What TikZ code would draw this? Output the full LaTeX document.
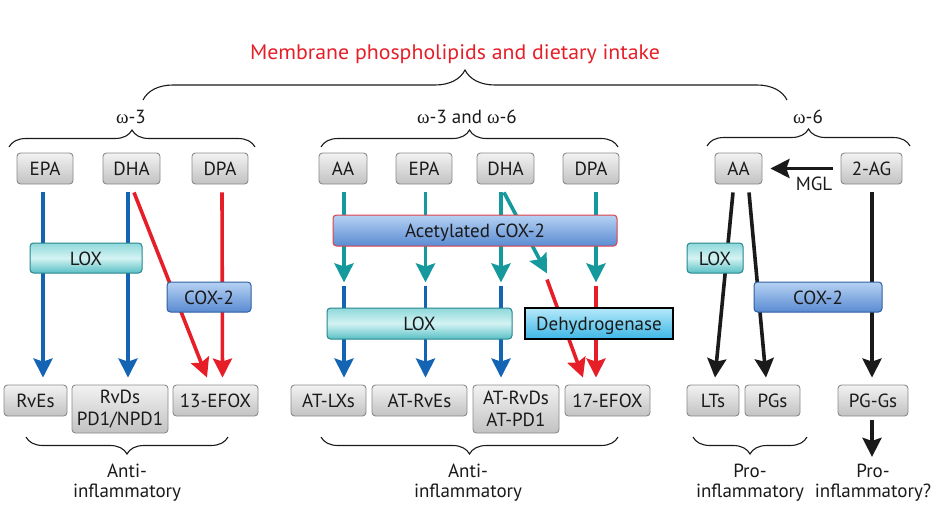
\documentclass[tikz,border=0pt]{standalone}
\usepackage{fontspec}
\usepackage{graphicx}
\setmainfont{PT Sans}
\newfontfamily\grk{Liberation Serif}
\newcommand{\omg}{{\grk ω}}
\usetikzlibrary{arrows.meta,decorations.pathreplacing}
\definecolor{cblue}{HTML}{1464B4}
\definecolor{cred}{HTML}{E61E28}
\definecolor{cteal}{HTML}{16999C}
\definecolor{cblack}{HTML}{1A1A1A}
\definecolor{boxtop}{HTML}{F2F2F2}
\definecolor{boxbot}{HTML}{C2C2C2}
\definecolor{boxedge}{HTML}{8A8A8A}
\definecolor{loxtop}{HTML}{8ED8DA}
\definecolor{loxmid}{HTML}{D4F3F3}
\definecolor{loxbot}{HTML}{58C0C5}
\definecolor{loxedge}{HTML}{27868E}
\definecolor{coxtop}{HTML}{B6D2F3}
\definecolor{coxbot}{HTML}{5A8BD2}
\definecolor{coxedge}{HTML}{2F5F9E}
\definecolor{dehtop}{HTML}{B5E9FA}
\definecolor{dehbot}{HTML}{3DB6E6}
\definecolor{acedge}{HTML}{E0404A}
\pgfdeclarelayer{bg}
\pgfsetlayers{bg,main}
\tikzset{
  txt/.style={font=\fontsize{19}{19.5}\selectfont, inner sep=0pt, text=cblack},
  onel/.style={text height=14.5pt, text depth=0pt},
  gbox/.style={txt, draw=boxedge, line width=0.9pt, rounded corners=3.5pt,
    top color=boxtop, bottom color=boxbot, minimum height=31pt, align=center},
  twol/.style={font=\fontsize{19}{21.5}\selectfont, minimum height=48pt},
  loxbox/.style={txt, onel, draw=loxedge, line width=1pt, rounded corners=3.5pt,
    top color=loxtop, bottom color=loxbot, middle color=loxmid, minimum height=30pt},
  coxbox/.style={txt, onel, draw=coxedge, line width=1pt, rounded corners=3.5pt,
    top color=coxtop, bottom color=coxbot, minimum height=30pt},
  acbox/.style={coxbox, draw=acedge, minimum height=31pt},
  dehbox/.style={txt, onel, draw=black, line width=1.3pt,
    top color=dehtop, bottom color=dehbot, minimum height=31pt},
  arr/.style={line width=3.6pt, -{Stealth[length=19pt,width=19pt,inset=3pt]}},
  barr/.style={arr, draw=cblue},
  rarr/.style={arr, draw=cred},
  tarr/.style={arr, draw=cteal},
  karr/.style={arr, draw=cblack},
  brc/.style={draw=cblack, line width=1.1pt, decorate},
}
\begin{document}
\begin{tikzpicture}[x=1pt,y=-1pt]
\useasboundingbox (0,0) rectangle (946,522);

% title and group labels
\node[txt, font=\fontsize{21}{22}\selectfont, text=cred, anchor=base] (title) at (455,59) {\scalebox{1.04}[1]{Membrane phospholipids and dietary intake}};
\node[txt, anchor=base] (om3) at (131,123) {\omg-3};
\node[txt, anchor=base] (om36) at (467,123) {\omg-3 and \omg-6};
\node[txt, anchor=base] (om6) at (808,123) {\omg-6};

% braces
\draw[brc, decoration={brace, amplitude=30pt}] (143,100) -- (787,100);
\draw[brc, decoration={brace, amplitude=17pt}] (9,147) -- (255,147);
\draw[brc, decoration={brace, amplitude=17pt}] (321,147) -- (618,147);
\draw[brc, decoration={brace, amplitude=17pt}] (707,146) -- (910,146);
\draw[brc, decoration={brace, amplitude=17pt}] (228,437) -- (26,437);
\draw[brc, decoration={brace, amplitude=17pt}] (618,437) -- (321,437);
\draw[brc, decoration={brace, amplitude=17pt}] (807,437) -- (693,437);

% source boxes
\node[gbox, onel, minimum width=56pt] (e3EPA) at (45,168.5) {EPA};
\node[gbox, onel, minimum width=57pt] (e3DHA) at (131.5,168.5) {DHA};
\node[gbox, onel, minimum width=56pt] (e3DPA) at (220,168.5) {DPA};
\node[gbox, onel, minimum width=48pt] (mAA) at (343,168.5) {AA};
\node[gbox, onel, minimum width=56pt] (mEPA) at (424,168.5) {EPA};
\node[gbox, onel, minimum width=57pt] (mDHA) at (505.5,168.5) {DHA};
\node[gbox, onel, minimum width=56pt] (mDPA) at (591,168.5) {DPA};
\node[gbox, onel, minimum width=47pt] (rAA) at (738.5,168.5) {AA};
\node[gbox, onel, minimum width=61pt] (r2AG) at (871.5,168.5) {2-AG};

% enzymes
\node[loxbox, minimum width=112pt] (LOXa) at (86,258) {LOX};
\node[coxbox, minimum width=84pt] (COXa) at (209,297) {COX-2};
\node[acbox, minimum width=284pt] (AcCOX) at (475,230.5) {Acetylated COX-2};
\node[loxbox, minimum width=185pt, minimum height=31pt] (LOXb) at (419.5,323.5) {LOX};
\node[dehbox, minimum width=148pt] (DEH) at (599,323.5) {Dehydrogenase};
\node[loxbox, minimum width=56pt] (LOXc) at (715,258) {LOX};
\node[coxbox, minimum width=128pt] (COXc) at (818,297) {COX-2};

% products
\node[gbox, onel, minimum width=63pt] (RvEs) at (35.5,400.5) {RvEs};
\node[gbox, twol, minimum width=96pt] (RvDs) at (120,409) {RvDs\\PD1/NPD1};
\node[gbox, onel, minimum width=85pt] (EFOXa) at (215.5,400.5) {13-EFOX};
\node[gbox, onel, minimum width=75pt] (ATLX) at (328.5,400.5) {AT-LXs};
\node[gbox, onel, minimum width=95pt] (ATRvE) at (419.5,400.5) {AT-RvEs};
\node[gbox, twol, minimum width=86pt] (ATRvD) at (516,409) {AT-RvDs\\AT-PD1};
\node[gbox, onel, minimum width=85pt] (EFOXb) at (607.5,400.5) {17-EFOX};
\node[gbox, onel, minimum width=52pt] (LTs) at (713,400.5) {LTs};
\node[gbox, onel, minimum width=55pt] (PGs) at (772.5,400.5) {PGs};
\node[gbox, onel, minimum width=70pt] (PGGs) at (873,400.5) {PG-Gs};

% outcome labels
\node[txt, align=center] (antiA) at (127,482.5) {Anti-\\inflammatory};
\node[txt, align=center] (antiB) at (468,482.5) {Anti-\\inflammatory};
\node[txt, align=center] (proA) at (750,482.5) {Pro-\\inflammatory};
\node[txt, align=center] (proB) at (873,482.5) {Pro-\\inflammatory?};
\node[txt, anchor=base] (mgl) at (814,190) {MGL};

\begin{pgfonlayer}{bg}
% omega-3 column
\draw[barr] ([shift={(-2,8)}]e3EPA.south) -- ([shift={(7.5,-7)}]RvEs.north);
\draw[barr] ([shift={(-3.5,8)}]e3DHA.south) -- ([shift={(8,-7)}]RvDs.north);
\draw[rarr] ([shift={(2.5,8)}]e3DHA.south) -- ([shift={(-8.5,-7)}]EFOXa.north);
\draw[rarr] ([shift={(2,8)}]e3DPA.south) -- ([shift={(7,-7)}]EFOXa.north);
% middle: acetylated COX-2
\draw[tarr] ([shift={(1,8)}]mAA.south) -- ([shift={(1,98)}]mAA.south);
\draw[tarr] ([shift={(1.5,8)}]mEPA.south) -- ([shift={(1.5,98)}]mEPA.south);
\draw[tarr] ([shift={(-4.5,8)}]mDHA.south) -- ([shift={(-4.5,98)}]mDHA.south);
\draw[tarr] ([shift={(-1.5,8)}]mDHA.south) -- ([shift={(41.5,89)}]mDHA.south);
\draw[tarr] ([shift={(5,8)}]mDPA.south) -- ([shift={(5,98)}]mDPA.south);
% middle: LOX
\draw[barr] ([shift={(15.5,-99)}]ATLX.north) -- ([shift={(15.5,-7)}]ATLX.north);
\draw[barr] ([shift={(6,-99)}]ATRvE.north) -- ([shift={(6,-7)}]ATRvE.north);
\draw[barr] ([shift={(-15,-99)}]ATRvD.north) -- ([shift={(-15,-7)}]ATRvD.north);
% middle: dehydrogenase
\draw[rarr] ([shift={(-60.5,-105)}]EFOXb.north) -- ([shift={(-24.5,-7)}]EFOXb.north);
\draw[rarr] ([shift={(-11.5,-99)}]EFOXb.north) -- ([shift={(-11.5,-7)}]EFOXb.north);
% omega-6
\draw[karr] ([shift={(-5.5,8)}]rAA.south) -- ([shift={(2,-7)}]LTs.north);
\draw[karr] ([shift={(10.5,8)}]rAA.south) -- ([shift={(-6.5,-7)}]PGs.north);
\draw[karr] ([shift={(0.5,8)}]r2AG.south) -- ([shift={(-1,-7)}]PGGs.north);
\end{pgfonlayer}
\draw[karr] ([xshift=-8pt]r2AG.west) -- ([xshift=8pt]rAA.east);
\draw[karr, shorten <=4pt, shorten >=7pt] ([xshift=-1pt]PGGs.south) -- ([xshift=-1pt]PGGs.south |- proB.north);
\end{tikzpicture}
\end{document}
